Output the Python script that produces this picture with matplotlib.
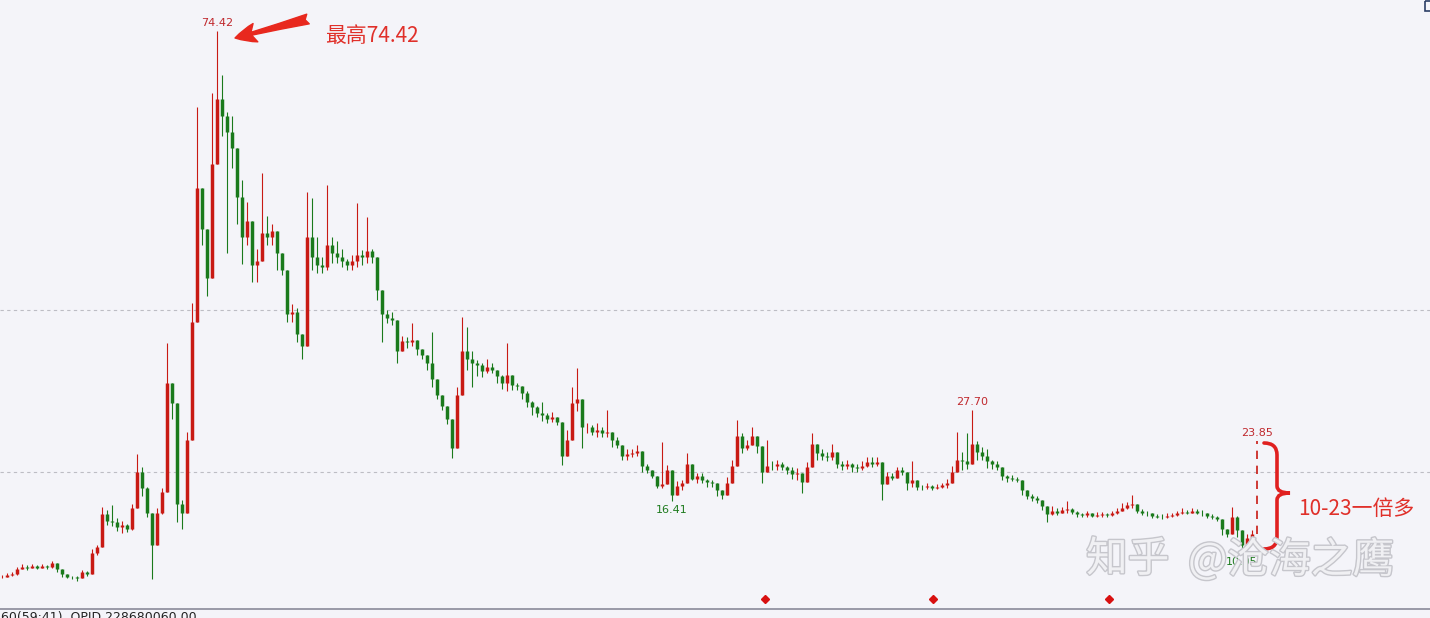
import numpy as np
import matplotlib.pyplot as plt
from matplotlib.path import Path
from matplotlib.patches import PathPatch, Rectangle
from matplotlib.transforms import Affine2D
import matplotlib.patheffects as pe

W, H = 1430, 618

# daily bars (close / high / low), open = previous close
close = [
    7.1, 7.3, 7.4, 8.0, 8.3, 8.2, 8.4, 8.2, 8.4, 8.3,
    8.8, 8.0, 7.4, 7.1, 7.0, 6.9, 7.7, 7.4, 10.0, 10.7,
    14.8, 14.0, 13.8, 13.2, 13.4, 13.0, 15.5, 20.0, 18.0, 15.0,
    11.0, 15.0, 17.5, 31.0, 28.5, 16.0, 15.0, 24.0, 38.5, 55.0,
    50.0, 44.0, 58.0, 66.0, 64.0, 62.0, 60.0, 54.0, 49.0, 51.0,
    45.5, 46.0, 49.5, 49.0, 49.8, 47.0, 45.0, 39.5, 39.8, 37.0,
    35.5, 49.0, 46.5, 45.5, 45.3, 48.0, 47.0, 46.5, 46.0, 45.5,
    46.0, 46.8, 46.5, 47.3, 46.5, 42.5, 39.5, 39.0, 38.8, 35.0,
    36.2, 36.0, 36.3, 35.2, 34.5, 33.5, 31.5, 29.5, 28.2, 26.5,
    23.0, 29.5, 35.0, 34.0, 33.5, 33.2, 32.5, 33.0, 32.6, 31.8,
    31.0, 32.0, 30.8, 30.6, 29.8, 28.6, 28.0, 27.3, 27.0, 26.6,
    26.8, 26.2, 22.0, 24.0, 28.5, 29.0, 25.5, 25.5, 25.0, 25.2,
    24.8, 25.0, 24.0, 23.3, 22.0, 22.2, 22.3, 22.6, 20.8, 20.3,
    19.5, 18.3, 18.5, 20.2, 17.2, 18.3, 18.6, 21.0, 19.2, 19.5,
    19.0, 18.8, 18.6, 17.8, 17.2, 18.6, 20.8, 24.5, 23.0, 23.3,
    24.5, 23.2, 20.0, 20.8, 20.7, 21.0, 20.6, 20.3, 19.8, 19.9,
    18.8, 20.6, 23.5, 22.3, 22.0, 21.8, 22.5, 21.0, 20.8, 21.0,
    20.6, 20.5, 20.8, 21.2, 21.0, 21.2, 18.5, 19.5, 19.3, 20.2,
    20.0, 18.6, 19.0, 18.2, 18.1, 18.3, 18.0, 18.2, 18.4, 18.6,
    20.0, 21.5, 21.3, 21.0, 23.5, 22.5, 22.0, 21.3, 21.0, 20.6,
    19.5, 19.3, 19.2, 19.0, 17.8, 17.0, 16.8, 16.6, 15.8, 14.8,
    15.2, 15.0, 15.3, 15.4, 15.1, 14.8, 14.7, 14.9, 14.6, 14.7,
    14.8, 14.7, 14.9, 15.2, 15.6, 15.9, 16.1, 15.2, 15.0, 14.9,
    14.6, 14.5, 14.4, 14.6, 14.7, 14.9, 15.1, 15.0, 15.2, 15.0,
    14.9, 14.6, 14.4, 14.2, 13.0, 12.4, 14.5, 12.8, 11.0, 11.8,
    12.3, 23.85]
high = [
    7.3, 7.5, 7.6, 8.3, 8.6, 8.5, 8.7, 8.5, 8.6, 8.5,
    9.0, 8.8, 7.9, 7.4, 7.2, 7.2, 7.9, 7.8, 10.5, 11.0,
    15.7, 15.3, 15.9, 14.3, 14.0, 13.6, 16.0, 22.2, 20.6, 18.2,
    13.0, 15.5, 18.0, 35.9, 30.0, 22.0, 16.5, 25.0, 40.9, 65.0,
    53.0, 47.0, 66.8, 74.42, 69.0, 64.5, 64.0, 58.8, 56.0, 53.3,
    49.0, 47.5, 56.9, 51.6, 50.6, 48.5, 46.5, 43.0, 40.7, 40.2,
    37.0, 54.6, 53.8, 49.0, 46.5, 55.4, 49.0, 48.5, 47.5, 46.3,
    46.8, 53.2, 47.4, 51.5, 47.5, 45.8, 41.9, 40.0, 39.8, 37.2,
    36.8, 36.7, 38.4, 35.9, 35.2, 34.2, 37.3, 31.0, 29.3, 27.7,
    24.8, 30.5, 39.1, 37.9, 35.0, 33.8, 33.5, 33.9, 33.5, 32.6,
    32.0, 35.9, 31.5, 31.0, 30.5, 30.0, 28.8, 28.2, 28.6, 27.3,
    27.4, 26.8, 25.8, 25.2, 30.5, 32.8, 27.3, 26.0, 25.8, 26.0,
    25.6, 27.7, 24.6, 24.3, 22.6, 22.8, 22.9, 23.3, 22.0, 21.0,
    20.0, 18.8, 23.7, 20.9, 18.6, 18.9, 19.0, 22.3, 20.2, 19.9,
    19.9, 19.2, 19.0, 18.6, 17.8, 19.4, 21.5, 26.4, 24.8, 24.0,
    25.6, 24.0, 21.1, 24.0, 21.3, 21.5, 21.2, 20.8, 20.6, 20.5,
    19.6, 21.2, 24.8, 23.1, 22.8, 22.5, 23.5, 21.8, 21.3, 21.5,
    21.1, 21.0, 21.3, 21.8, 21.9, 21.8, 20.2, 20.0, 19.9, 20.6,
    20.6, 19.2, 21.4, 18.6, 18.4, 18.6, 18.4, 18.5, 18.7, 19.2,
    20.8, 24.9, 22.5, 24.8, 27.70, 23.8, 23.1, 22.9, 21.5, 21.3,
    20.3, 19.6, 19.6, 19.4, 18.8, 17.5, 17.3, 17.0, 16.3, 15.5,
    15.8, 15.5, 15.7, 16.4, 15.6, 15.2, 15.0, 15.2, 15.0, 15.1,
    15.1, 15.0, 15.2, 15.6, 16.2, 16.3, 17.2, 15.9, 15.4, 15.2,
    15.0, 14.8, 14.8, 14.9, 15.0, 15.2, 15.5, 15.3, 15.6, 15.4,
    15.3, 14.9, 14.8, 14.6, 14.0, 13.0, 15.7, 14.6, 12.5, 12.3,
    12.8, 23.85]
low = [
    6.9, 7.0, 7.2, 7.3, 8.0, 7.9, 8.1, 8.0, 8.1, 8.0,
    8.2, 7.6, 7.1, 6.9, 6.8, 6.6, 7.0, 7.2, 7.5, 9.8,
    10.8, 13.5, 13.3, 12.7, 12.5, 12.6, 12.9, 16.5, 17.0, 14.5,
    6.8, 11.0, 14.8, 23.0, 26.5, 13.8, 13.0, 15.0, 27.3, 48.0,
    48.0, 41.7, 52.0, 62.0, 61.5, 47.0, 57.5, 50.6, 45.7, 48.0,
    43.5, 43.5, 47.0, 48.0, 48.0, 45.0, 44.3, 38.5, 38.5, 36.0,
    34.0, 42.0, 45.0, 44.6, 44.6, 45.0, 45.8, 45.8, 45.3, 44.9,
    45.0, 45.3, 45.5, 45.8, 45.8, 41.2, 36.0, 38.4, 38.2, 33.5,
    35.4, 35.3, 35.5, 34.4, 34.0, 32.6, 30.5, 29.0, 27.6, 25.9,
    21.7, 23.0, 32.6, 32.6, 30.5, 31.8, 31.7, 32.2, 32.2, 31.0,
    30.3, 30.0, 30.1, 30.1, 29.0, 28.0, 27.0, 26.8, 26.3, 26.0,
    26.2, 25.8, 20.9, 23.1, 24.0, 27.5, 23.0, 24.8, 24.6, 24.3,
    24.3, 24.3, 23.1, 23.0, 21.5, 21.5, 21.9, 22.0, 20.0, 19.9,
    19.3, 18.0, 18.0, 19.9, 16.41, 17.8, 17.8, 19.0, 19.0, 18.6,
    18.6, 18.2, 18.2, 17.0, 16.7, 18.1, 19.9, 22.3, 22.3, 22.7,
    23.5, 22.3, 18.6, 20.2, 20.2, 20.3, 20.2, 19.8, 19.2, 19.0,
    17.4, 19.5, 21.0, 21.5, 21.5, 21.3, 21.5, 20.5, 20.2, 20.4,
    20.0, 20.0, 20.2, 20.6, 20.6, 20.7, 16.5, 19.0, 19.0, 19.5,
    19.6, 17.8, 18.2, 17.8, 17.8, 17.9, 17.8, 17.9, 18.0, 18.0,
    18.6, 20.6, 20.2, 20.4, 21.9, 21.5, 21.5, 20.5, 20.4, 20.2,
    19.0, 18.8, 18.9, 18.8, 17.2, 16.7, 16.4, 16.2, 15.3, 13.8,
    14.7, 14.7, 14.9, 15.0, 14.8, 14.5, 14.4, 14.5, 14.4, 14.5,
    14.5, 14.4, 14.6, 14.8, 15.2, 15.4, 15.6, 14.9, 14.7, 14.6,
    14.3, 14.3, 14.2, 14.3, 14.4, 14.6, 14.8, 14.8, 14.9, 14.8,
    14.6, 14.3, 14.2, 13.9, 12.2, 12.0, 12.5, 12.0, 10.05, 11.0,
    11.6, 12.3]

marked_highs = [43, 194, 251]     # 74.42, 27.70, 23.85
marked_lows = [134, 248]          # 16.41, 10.05
signal_bars = [152.6, 186.2, 221.4]
grid_levels = [20, 40]

bg = '#f4f4f9'
red = '#c81a14'
green = '#1a7a1c'

c = np.array(close)
o = np.concatenate([[c[0]], c[:-1]])
h = np.maximum(np.array(high), np.maximum(o, c))
l = np.minimum(np.array(low), np.minimum(o, c))
x = np.arange(len(c))
cols = np.where(c >= o, red, green)

fig = plt.figure(figsize=(W / 100, H / 100), dpi=100, facecolor=bg)
ax = fig.add_axes([0, 9 / H, 1, 609 / H])
ax.set_facecolor(bg)
ax.set_xlim(-0.4, 285.6)
ax.set_ylim(3.09, 78.27)
ax.set_xticks([])
ax.set_yticks([])
for s in ['top', 'left', 'right']:
    ax.spines[s].set_visible(False)
ax.spines['bottom'].set_color('#8a8a99')
ax.spines['bottom'].set_linewidth(1.2)

for g in grid_levels:
    ax.axhline(g, color='#bdbdc4', lw=0.8, dashes=(3, 3), zorder=0)

# candles (last bar is the dashed limit-up run)
n = len(c) - 1
ax.vlines(x[:n], l[:n], h[:n], colors=cols[:n], lw=0.8, zorder=2)
ax.vlines(x[:n], np.minimum(o, c)[:n], np.maximum(o, c)[:n], colors=cols[:n], lw=2.5, zorder=3)
ax.vlines(x[n], o[n], c[n], colors=red, lw=1.2, linestyles=(0, (5, 4)), zorder=3)

for i in marked_highs:
    ax.annotate(f'{high[i]:.2f}', xy=(i, high[i]), xytext=(0, 2), textcoords='offset points',
                ha='center', va='bottom', fontsize=8, color='#c0282d')
for i in marked_lows:
    ax.annotate(f'{low[i]:.2f}', xy=(i, low[i]), xytext=(0, -3), textcoords='offset points',
                ha='center', va='top', fontsize=8, color='#1e7b1e')

ax.plot(signal_bars, [4.3] * len(signal_bars), ls='none', marker='D', ms=4.5, color='#d81010',
        clip_on=False, zorder=4)

# annotations drawn in image pixel coordinates
img = Affine2D().scale(1, -1).translate(0, H)
cjk = ['Noto Sans CJK SC', 'DejaVu Sans']

ax.annotate('', xy=(235, 38), xytext=(308, 19), xycoords=img, textcoords=img,
            arrowprops=dict(arrowstyle='fancy,head_length=0.95,head_width=0.85,tail_width=0.45',
                            color='#e8281e', mutation_scale=16, shrinkA=0, shrinkB=0))
ax.text(325, 36, '最高74.42', transform=img, family=cjk, fontsize=15, color='#e0302a',
        ha='left', va='center')

verts = [(1264, 443), (1277, 443), (1277, 455), (1277, 486),
         (1277, 493), (1290, 493), (1277, 493), (1277, 500),
         (1277, 537), (1277, 549), (1264, 549)]
codes = [Path.MOVETO, Path.CURVE3, Path.CURVE3, Path.LINETO,
         Path.CURVE3, Path.CURVE3, Path.CURVE3, Path.CURVE3,
         Path.LINETO, Path.CURVE3, Path.CURVE3]
ax.add_patch(PathPatch(Path(verts, codes), transform=img, fill=False, edgecolor='#e02020',
                       lw=2.6, capstyle='round', clip_on=False, zorder=6))
ax.text(1298, 509, '10-23一倍多', transform=img, family=cjk, fontsize=15, color='#e0302a',
        ha='left', va='center')

wm = [pe.withStroke(linewidth=2, foreground='#c6c6cc')]
ax.text(1086, 560, '知乎', transform=img, family=cjk, fontsize=30, color='#f0f0f3',
        ha='left', va='center', path_effects=wm, zorder=8)
ax.text(1188, 560, '@沧海之鹰', transform=img, family=cjk, fontsize=30, color='#f0f0f3',
        ha='left', va='center', path_effects=wm, zorder=8)

ax.add_patch(Rectangle((1425, 1), 9, 10, transform=img, fill=False, edgecolor='#2c3e66',
                       lw=1.2, clip_on=False))
ax.text(1, 611, '60(59:41)  OPID 228680060.00', transform=img, fontsize=9, color='#222222',
        ha='left', va='top', clip_on=False)

fig.savefig('out.png', dpi=100, facecolor=bg)
